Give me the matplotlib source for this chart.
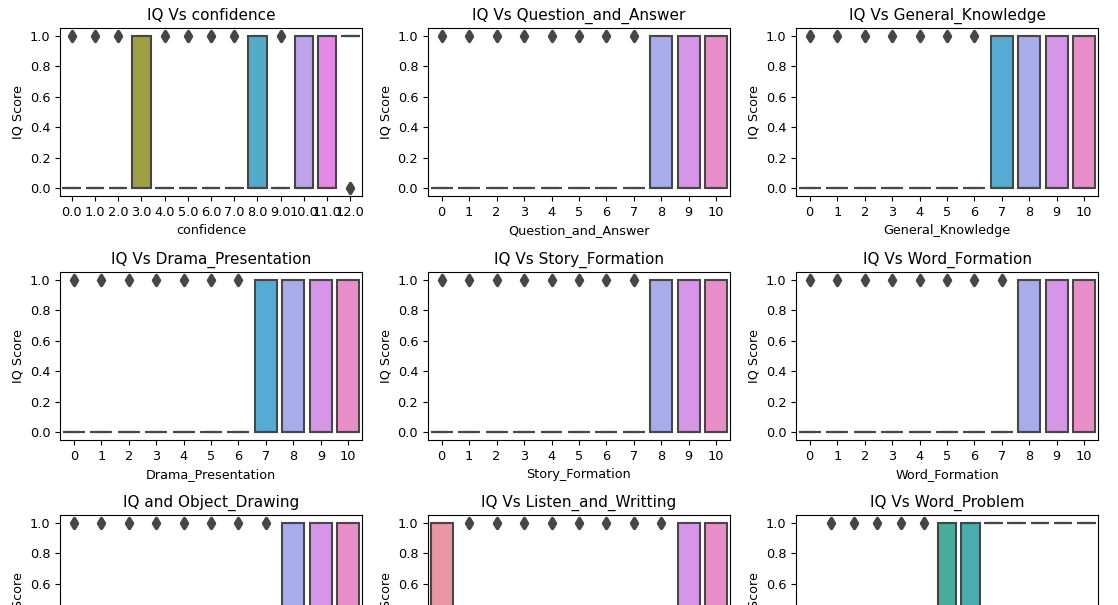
import colorsys
import matplotlib
matplotlib.use('Agg')
import matplotlib.pyplot as plt
from matplotlib.markers import MarkerStyle
import seaborn as sns

# each category is binary IQ score: box bottom (lo), box top (hi), outlier value (None = no outlier)
confidence_x = ['0.0', '1.0', '2.0', '3.0', '4.0', '5.0', '6.0', '7.0', '8.0', '9.0', '10.0', '11.0', '12.0']
confidence_lo = [0, 0, 0, 0, 0, 0, 0, 0, 0, 0, 0, 0, 1]
confidence_hi = [0, 0, 0, 1, 0, 0, 0, 0, 1, 0, 1, 1, 1]
confidence_out = [1, 1, 1, None, 1, 1, 1, 1, None, 1, None, None, 0]

qa_x = [str(i) for i in range(11)]
qa_lo = [0, 0, 0, 0, 0, 0, 0, 0, 0, 0, 0]
qa_hi = [0, 0, 0, 0, 0, 0, 0, 0, 1, 1, 1]
qa_out = [1, 1, 1, 1, 1, 1, 1, 1, None, None, None]

gk_x = [str(i) for i in range(11)]
gk_lo = [0, 0, 0, 0, 0, 0, 0, 0, 0, 0, 0]
gk_hi = [0, 0, 0, 0, 0, 0, 0, 1, 1, 1, 1]
gk_out = [1, 1, 1, 1, 1, 1, 1, None, None, None, None]

drama_x = [str(i) for i in range(11)]
drama_lo = [0, 0, 0, 0, 0, 0, 0, 0, 0, 0, 0]
drama_hi = [0, 0, 0, 0, 0, 0, 0, 1, 1, 1, 1]
drama_out = [1, 1, 1, 1, 1, 1, 1, None, None, None, None]

story_x = [str(i) for i in range(11)]
story_lo = [0, 0, 0, 0, 0, 0, 0, 0, 0, 0, 0]
story_hi = [0, 0, 0, 0, 0, 0, 0, 0, 1, 1, 1]
story_out = [1, 1, 1, 1, 1, 1, 1, 1, None, None, None]

wordf_x = [str(i) for i in range(11)]
wordf_lo = [0, 0, 0, 0, 0, 0, 0, 0, 0, 0, 0]
wordf_hi = [0, 0, 0, 0, 0, 0, 0, 0, 1, 1, 1]
wordf_out = [1, 1, 1, 1, 1, 1, 1, 1, None, None, None]

obj_x = [str(i) for i in range(11)]
obj_lo = [0, 0, 0, 0, 0, 0, 0, 0, 0, 0, 0]
obj_hi = [0, 0, 0, 0, 0, 0, 0, 0, 1, 1, 1]
obj_out = [1, 1, 1, 1, 1, 1, 1, 1, None, None, None]

listen_x = [str(i) for i in range(11)]
listen_lo = [0, 0, 0, 0, 0, 0, 0, 0, 0, 0, 0]
listen_hi = [1, 0, 0, 0, 0, 0, 0, 0, 0, 1, 1]
listen_out = [None, 1, 1, 1, 1, 1, 1, 1, 1, None, None]

wp_x = [str(i) for i in range(13)]
wp_lo = [0, 0, 0, 0, 0, 0, 0, 0, 1, 1, 1, 1, 1]
wp_hi = [0, 0, 0, 0, 0, 0, 1, 1, 1, 1, 1, 1, 1]
wp_out = [None, 1, 1, 1, 1, 1, None, None, None, None, None, None, None]

panels = [
    ('IQ Vs confidence', 'confidence', confidence_x, confidence_lo, confidence_hi, confidence_out),
    ('IQ Vs Question_and_Answer', 'Question_and_Answer', qa_x, qa_lo, qa_hi, qa_out),
    ('IQ Vs General_Knowledge', 'General_Knowledge', gk_x, gk_lo, gk_hi, gk_out),
    ('IQ Vs Drama_Presentation', 'Drama_Presentation', drama_x, drama_lo, drama_hi, drama_out),
    ('IQ Vs Story_Formation', 'Story_Formation', story_x, story_lo, story_hi, story_out),
    ('IQ Vs Word_Formation', 'Word_Formation', wordf_x, wordf_lo, wordf_hi, wordf_out),
    ('IQ and Object_Drawing', 'Object_Drawing', obj_x, obj_lo, obj_hi, obj_out),
    ('IQ Vs Listen_and_Writting', 'Listen_and_Writting', listen_x, listen_lo, listen_hi, listen_out),
    ('IQ Vs Word_Problem', 'Word_Problem', wp_x, wp_lo, wp_hi, wp_out),
]

fig = plt.figure(figsize=(11.18, 6.05), dpi=100)
lefts = [0.0537, 0.3828, 0.712]
bottoms = [0.676, 0.2727, -0.129]
w, h = 0.2701, 0.2777

for k, (title, xlab, cats, lo, hi, out) in enumerate(panels):
    ax = fig.add_axes([lefts[k % 3], bottoms[k // 3], w, h])
    n = len(cats)
    colors = sns.color_palette(sns.husl_palette(n, l=.7), desat=.75)
    lum = min(colorsys.rgb_to_hls(*c)[1] for c in colors) * .6
    gray = (lum, lum, lum)

    stats = []
    for i in range(n):
        stats.append(dict(med=lo[i], q1=lo[i], q3=hi[i], whislo=lo[i], whishi=hi[i],
                          fliers=[] if out[i] is None else [out[i]]))
    bp = ax.bxp(stats, positions=range(n), widths=0.8, patch_artist=True,
                boxprops=dict(edgecolor=gray, linewidth=1.5),
                medianprops=dict(color=gray, linewidth=1.5),
                whiskerprops=dict(color=gray, linewidth=1.5),
                capprops=dict(color=gray, linewidth=1.5),
                flierprops=dict(marker=MarkerStyle('d', joinstyle='round'), markersize=5,
                                markeredgewidth=2.5, markerfacecolor=gray,
                                markeredgecolor=gray, linestyle='none'))
    for patch, c in zip(bp['boxes'], colors):
        patch.set_facecolor(c)

    ax.set_xticks(range(n))
    ax.set_xticklabels(cats)
    ax.tick_params(labelsize=9.3)
    ax.set_xlim(-0.5, n - 0.5)
    ax.set_ylim(-0.05, 1.05)
    ax.set_title(title, fontsize=11)
    ax.set_xlabel(xlab, fontsize=9.2)
    ax.set_ylabel('IQ Score', fontsize=9.2)

fig.savefig('out.png', dpi=100)
